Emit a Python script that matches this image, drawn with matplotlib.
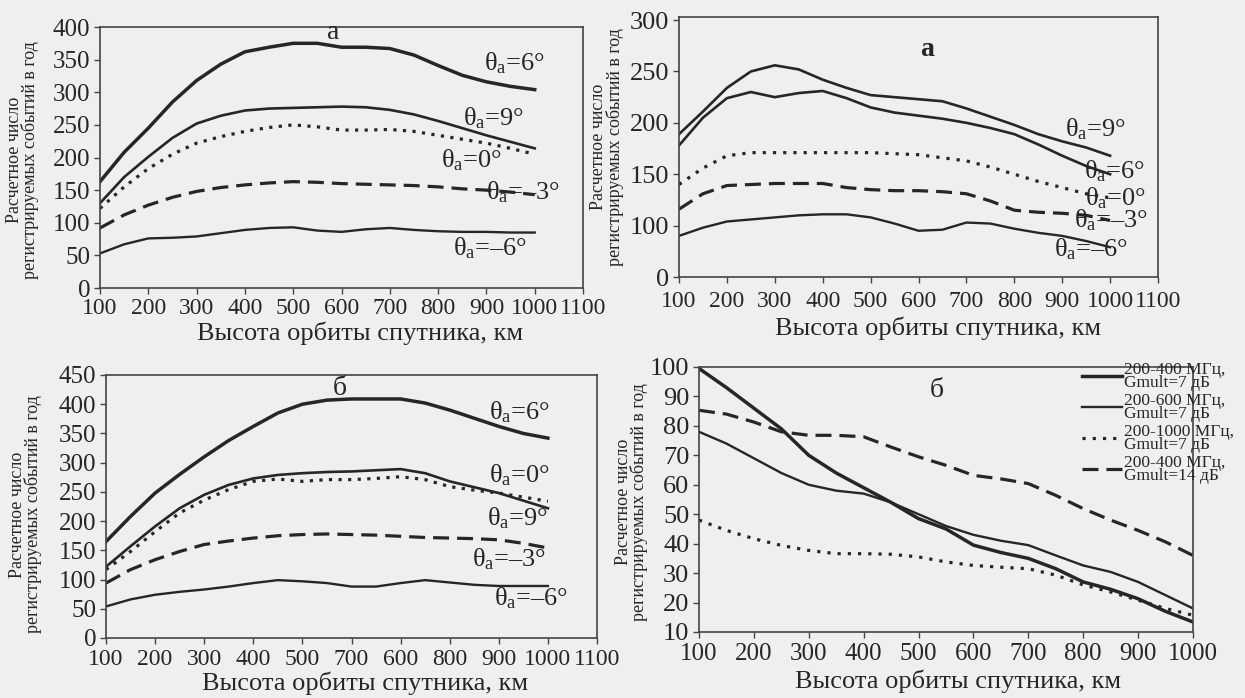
import matplotlib.pyplot as plt

plt.rcParams['font.family'] = ['Liberation Serif', 'DejaVu Serif']
plt.rcParams['mathtext.fontset'] = 'custom'
plt.rcParams['mathtext.rm'] = 'Liberation Serif'

# ---- данные ----
h = [100, 150, 200, 250, 300, 350, 400, 450, 500, 550, 600, 650, 700, 750, 800, 850, 900, 950, 1000]

# верхний левый (а)
tl_p6 = [163, 208, 245, 285, 318, 343, 362, 369, 375, 375, 369, 369, 367, 357, 341, 326, 316, 309, 304]
tl_p9 = [130, 170, 201, 230, 252, 264, 272, 275, 276, 277, 278, 277, 273, 266, 256, 245, 234, 224, 214]
tl_0 = [122, 155, 183, 205, 222, 232, 240, 246, 250, 247, 242, 242, 243, 240, 234, 228, 222, 214, 205]
tl_m3 = [92, 112, 127, 139, 148, 154, 158, 161, 163, 162, 160, 159, 158, 157, 155, 152, 150, 147, 143]
tl_m6 = [53, 67, 76, 77, 79, 84, 89, 92, 93, 88, 86, 90, 92, 89, 87, 86, 86, 85, 85]

# верхний правый (а)
tr_p9 = [189, 211, 234, 250, 256, 252, 242, 234, 227, 225, 223, 221, 214, 206, 198, 189, 182, 176, 168]
tr_p6 = [178, 205, 224, 230, 225, 229, 231, 224, 215, 210, 207, 204, 200, 195, 189, 179, 168, 158, 150]
tr_0 = [140, 156, 168, 171, 171, 171, 171, 171, 171, 170, 169, 166, 163, 157, 150, 143, 137, 131, 127]
tr_m3 = [116, 131, 139, 140, 141, 141, 141, 137, 135, 134, 134, 133, 131, 124, 115, 113, 112, 110, 105]
tr_m6 = [90, 98, 104, 106, 108, 110, 111, 111, 108, 102, 95, 96, 103, 102, 97, 93, 90, 85, 79]

# нижний левый (б)
bl_p6 = [165, 208, 248, 280, 310, 338, 362, 385, 400, 407, 409, 409, 409, 402, 390, 376, 362, 350, 342]
bl_p9 = [122, 157, 191, 222, 245, 262, 273, 279, 282, 284, 285, 287, 289, 282, 268, 258, 248, 235, 222]
bl_0 = [117, 148, 182, 214, 236, 254, 268, 272, 268, 271, 271, 273, 276, 271, 259, 253, 248, 241, 234]
bl_m3 = [94, 117, 134, 148, 160, 166, 171, 175, 177, 178, 177, 176, 174, 172, 171, 170, 168, 162, 154]
bl_m6 = [54, 66, 74, 79, 83, 88, 94, 99, 97, 94, 88, 88, 94, 99, 95, 91, 89, 89, 89]

# нижний правый (б)
br_400_7 = [99.5, 93, 86, 79, 70, 64, 59, 54, 48.5, 45, 39.5, 37, 35, 31.5, 27, 24.5, 21.3, 17, 13.4]
br_600_7 = [78, 74, 69, 64, 60, 58, 57, 54, 50, 46, 43, 41, 39.5, 36, 32.6, 30.4, 27, 22.5, 18]
br_1000_7 = [48, 44.5, 41.7, 39.4, 37.7, 36.6, 36.6, 36.4, 35.5, 33.8, 32.6, 32, 31.5, 29.3, 26, 23.6, 20.8, 18, 15.7]
br_400_14 = [85.3, 84, 81.3, 78, 76.8, 76.8, 76.3, 72.8, 69.5, 66.6, 63.2, 62, 60.4, 56.4, 51.9, 48, 44.5, 40.6, 36]

br_labels = ['200-400 МГц,\nGmult=7 дБ', '200-600 МГц,\nGmult=7 дБ',
             '200-1000 МГц,\nGmult=7 дБ', '200-400 МГц,\nGmult=14 дБ']

xt_long = [100, 200, 300, 400, 500, 600, 700, 800, 900, 1000, 1100]
xt_lab = ['100', '200', '300', '400', '500', '600', '700', '800', '900', '1000', '1100']
xt_lab_bl = ['100', '200', '300', '400', '500', '700', '600', '800', '900', '1000', '1100']
xt_br = [100, 200, 300, 400, 500, 600, 700, 800, 900, 1000]

ylab = 'Расчетное число\nрегистрируемых событий в год'
xlab = 'Высота орбиты спутника, км'

BG = '#efefef'
INK = '#262626'

W, H = 1245, 698


def rect(l, t, r, b):
    return [l / W, 1 - b / H, (r - l) / W, (b - t) / H]


def th(s):
    return r'$\mathregular{θ_a}$=' + s


def style(ax, xfs, yfs, xpad, ylab_x, ylab_y, xlab_x, xlab_y):
    ax.set_facecolor(BG)
    for sp in ax.spines.values():
        sp.set_color('#444444')
        sp.set_linewidth(1.2)
    ax.tick_params(direction='out', length=4, width=1, color='#444444', labelcolor=INK)
    ax.tick_params(axis='x', pad=xpad, labelsize=xfs)
    ax.tick_params(axis='y', pad=3, labelsize=yfs)
    ax.set_ylabel(ylab, fontsize=13, color=INK, linespacing=0.9)
    ax.yaxis.set_label_coords(ylab_x, ylab_y)
    ax.set_xlabel(xlab, fontsize=19, color=INK)
    ax.xaxis.set_label_coords(xlab_x, xlab_y)
    ax.xaxis.label.set_va('center')


fig = plt.figure(figsize=(12.45, 6.98), dpi=100, facecolor=BG)
lab_kw = dict(fontsize=19, color=INK, va='center')

# ---------- верхний левый ----------
ax = fig.add_axes(rect(100, 27, 583, 288))
ax.plot(h, tl_p6, color=INK, lw=2.5)
ax.plot(h, tl_p9, color=INK, lw=1.9)
ax.plot(h, tl_0, color=INK, lw=2.3, ls=(0, (1, 2)))
ax.plot(h, tl_m3, color=INK, lw=2.3, ls=(0, (5, 2.5)))
ax.plot(h, tl_m6, color=INK, lw=1.7)
ax.set_xlim(100, 1100)
ax.set_ylim(0, 400)
ax.set_xticks(xt_long, xt_lab)
ax.set_yticks(range(0, 401, 50))
style(ax, 17, 18, 3, -0.126, 0.49, 0.538, -0.172)
ax.text(895, 344, th('6°'), **lab_kw)
ax.text(852, 260, th('9°'), **lab_kw)
ax.text(805, 196, th('0°'), **lab_kw)
ax.text(900, 147, th('–3°'), **lab_kw)
ax.text(830, 61, th('–6°'), **lab_kw)
ax.text(582, 392, 'а', fontsize=20, color=INK, ha='center', va='center')

# ---------- верхний правый ----------
ax = fig.add_axes(rect(679, 17, 1158, 277))
ax.plot(h, tr_p9, color=INK, lw=1.9)
ax.plot(h, tr_p6, color=INK, lw=1.9)
ax.plot(h, tr_0, color=INK, lw=2.3, ls=(0, (1, 2.2)))
ax.plot(h, tr_m3, color=INK, lw=2.3, ls=(0, (5, 2.5)))
ax.plot(h, tr_m6, color=INK, lw=1.7)
ax.set_xlim(100, 1100)
ax.set_ylim(50, 303)
ax.set_xticks(xt_long, xt_lab)
ax.set_yticks([50, 100, 150, 200, 250, 300], ['0', '100', '150', '200', '250', '300'])
style(ax, 17, 19, 6, -0.115, 0.5, 0.541, -0.196)
ax.text(905, 194, th('9°'), **lab_kw)
ax.text(945, 153, th('6°'), **lab_kw)
ax.text(948, 127, th('0°'), **lab_kw)
ax.text(924, 105, th('–3°'), **lab_kw)
ax.text(882, 77, th('–6°'), **lab_kw)
ax.text(618, 271, 'а', fontsize=20, color=INK, ha='center', va='center', fontweight='bold')

# ---------- нижний левый ----------
ax = fig.add_axes(rect(106, 375, 597, 638))
ax.plot(h, bl_p6, color=INK, lw=2.5)
ax.plot(h, bl_p9, color=INK, lw=1.9)
ax.plot(h, bl_0, color=INK, lw=2.3, ls=(0, (1, 2)))
ax.plot(h, bl_m3, color=INK, lw=2.3, ls=(0, (5, 2.5)))
ax.plot(h, bl_m6, color=INK, lw=1.7)
ax.set_xlim(100, 1100)
ax.set_ylim(0, 450)
ax.set_xticks(xt_long, xt_lab_bl)
ax.set_yticks(range(0, 451, 50))
style(ax, 17, 18, 4, -0.13, 0.47, 0.527, -0.171)
ax.text(880, 387, th('6°'), **lab_kw)
ax.text(880, 279, th('0°'), **lab_kw)
ax.text(876, 205, th('9°'), **lab_kw)
ax.text(845, 134, th('–3°'), **lab_kw)
ax.text(890, 68, th('–6°'), **lab_kw)
ax.text(577, 427, 'б', fontsize=20, color=INK, ha='center', va='center')

# ---------- нижний правый ----------
ax = fig.add_axes(rect(699, 367, 1193, 632))
ax.plot(h, br_400_7, color=INK, lw=2.5, label=br_labels[0])
ax.plot(h, br_600_7, color=INK, lw=1.7, label=br_labels[1])
ax.plot(h, br_1000_7, color=INK, lw=2.3, ls=(0, (1, 2.2)), label=br_labels[2])
ax.plot(h, br_400_14, color=INK, lw=2.3, ls=(0, (5, 2.5)), label=br_labels[3])
ax.set_xlim(100, 1000)
ax.set_ylim(10, 100)
ax.set_xticks(xt_br)
ax.set_yticks(range(10, 101, 10))
style(ax, 18, 19, 4, -0.103, 0.49, 0.524, -0.185)
ax.text(533, 92, 'б', fontsize=20, color=INK, ha='center', va='center')
leg = ax.legend(loc='upper left', bbox_to_anchor=(0.775, 1.02), frameon=False,
                fontsize=12.5, handlelength=2.3, handletextpad=0.15,
                labelspacing=0.12, borderpad=0, borderaxespad=0)
for t in leg.get_texts():
    t.set_linespacing(0.75)
    t.set_color(INK)

fig.savefig('out.png', dpi=100, facecolor=BG)
